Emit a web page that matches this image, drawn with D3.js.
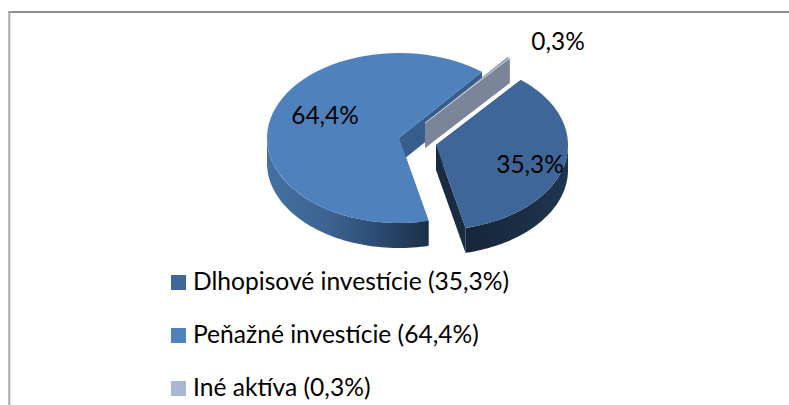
<!DOCTYPE html>
<html><head><meta charset="utf-8">
<style>html,body{margin:0;padding:0;background:#fff}svg{display:block}text{font-family:Lato,"Open Sans",sans-serif;fill:#000}</style>
<script src="https://cdn.jsdelivr.net/npm/d3@7"></script></head>
<body><svg id="c" width="789" height="405"></svg>
<script>
const categories = ["Dlhopisové investície", "Peňažné investície", "Iné aktíva"];
const shares = [35.3, 64.4, 0.3];
const valueLabels = ["35,3%", "64,4%", "0,3%"];
const legendLabels = ["Dlhopisové investície (35,3%)", "Peňažné investície (64,4%)", "Iné aktíva (0,3%)"];
const faceColors = ["#3e6699", "#4f81bd", "#a9b7d5"];

const cx = 399, cy = 138, rx = 132, ry = 85, depth = 25;
const offsets = [[37, 7], [0, 0], [26, -15]];
const labelPos = [[530, 167], [325, 118], [558, 44]];
const rad = Math.PI / 180;

const svg = d3.select("#c");
const defs = svg.append("defs");
const grad = (id, stops) => {
  const g = defs.append("linearGradient").attr("id", id).attr("x1", 0).attr("x2", 1).attr("y1", 0).attr("y2", 0);
  stops.forEach(([o, c]) => g.append("stop").attr("offset", o).attr("stop-color", c));
};
grad("sideMain", [[0, "#44709f"], [0.35, "#3d6594"], [0.65, "#2f4e76"], [1, "#1c3048"]]);
grad("sideBond", [[0, "#16263a"], [0.5, "#1a2d44"], [1, "#1f3550"]]);

// chart frame: only top and left edges fall inside the crop
svg.append("line").attr("x1", 8).attr("x2", 789).attr("y1", 12).attr("y2", 12)
  .attr("stroke", "#8c8c8c").attr("stroke-width", 2);
svg.append("line").attr("x1", 9.3).attr("x2", 9.3).attr("y1", 11).attr("y2", 405)
  .attr("stroke", "#a8a8a8").attr("stroke-width", 2);

const pie = d3.pie().sort(null).value(d => d).startAngle(40 * rad).endAngle(400 * rad);
const arcs = pie(shares);
const pt = (i, a, dz = 0) => {
  const [ox, oy] = offsets[i];
  return [cx + ox + rx * Math.sin(a), cy + oy - ry * Math.cos(a) + dz];
};
const rim = (i, a0, a1, dz = 0) => d3.range(0, 61).map(k => pt(i, a0 + (a1 - a0) * k / 60, dz));
const line = d3.line();
const center = (i, dz = 0) => [cx + offsets[i][0], cy + offsets[i][1] + dz];

const sideFill = ["url(#sideBond)", "url(#sideMain)", "#7a8599"];
const wallFill = ["#1a2c42", "#365d8c", "#7a8599"];
const faceOpacity = [1, 1, 0.45];

[1, 2, 0].forEach(i => {
  const { startAngle: a0, endAngle: a1 } = arcs[i];
  const g = svg.append("g").attr("class", "slice").datum(categories[i]);
  [a0, a1].forEach(a => {
    const c = center(i), p = pt(i, a);
    g.append("path")
      .attr("d", line([c, p, [p[0], p[1] + depth], [c[0], c[1] + depth]]) + "Z")
      .attr("fill", wallFill[i]);
  });
  const from = Math.max(a0, 90 * rad), to = Math.min(a1, 270 * rad);
  if (to > from) {
    g.append("path")
      .attr("d", line([...rim(i, from, to), ...rim(i, to, from, depth)]) + "Z")
      .attr("fill", sideFill[i]);
  }
  g.append("path")
    .attr("d", line([center(i), ...rim(i, a0, a1)]) + "Z")
    .attr("fill", faceColors[i]).attr("fill-opacity", faceOpacity[i]);
  if (i === 2) {
    const c = center(i), p = pt(i, a1);
    g.append("path").attr("d", line([c, p])).attr("stroke", "#cfd6e6").attr("stroke-width", 1).attr("fill", "none");
  }
});

svg.selectAll("text.value").data(valueLabels).join("text").attr("class", "value")
  .attr("x", (d, i) => labelPos[i][0]).attr("y", (d, i) => labelPos[i][1])
  .attr("text-anchor", "middle").attr("dominant-baseline", "middle")
  .attr("font-size", 24.4).text(d => d);

const y = d3.scalePoint().domain(d3.range(categories.length)).range([282.5, 388.5]);
const leg = svg.selectAll("g.leg").data(legendLabels).join("g").attr("class", "leg")
  .attr("transform", (d, i) => `translate(171,${y(i)})`);
leg.append("rect").attr("x", 0).attr("y", -7.5).attr("width", 15).attr("height", 15)
  .attr("fill", (d, i) => faceColors[i]);
leg.append("text").attr("x", 22).attr("y", 1.5).attr("dominant-baseline", "middle")
  .attr("font-size", 24.6).text(d => d);
</script></body></html>
